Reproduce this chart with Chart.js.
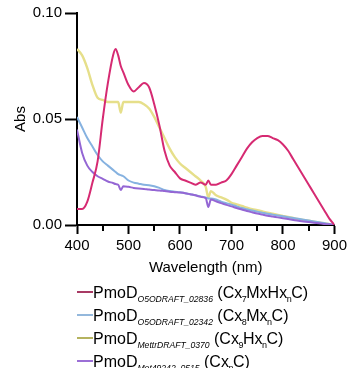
<!DOCTYPE html>
<html>
<head>
<meta charset="utf-8">
<script src="https://cdn.jsdelivr.net/npm/chart.js@4"></script>
<style>
  html, body { margin: 0; padding: 0; background: #fff; overflow: hidden; }
  #wrap { position: relative; width: 350px; height: 368px; overflow: hidden; }
  canvas { position: absolute; left: 0; top: 0; }
  .lg { position: absolute; left: 77px; font: 16px "Liberation Sans", Arial, sans-serif;
        color: #000; line-height: 23px; white-space: nowrap; }
  .lg .sw { display: inline-block; width: 16px; height: 2px; vertical-align: 5px; }
  .lg sub { font-size: 9px; line-height: 0; vertical-align: -4px; margin: 0 -0.5px; }
  .lg sub.i { font-style: italic; font-size: 8.6px; margin: 0; }
</style>
</head>
<body>
<div id="wrap">
  <canvas id="c" width="350" height="368"></canvas>
  <div class="lg" style="top:281px"><span class="sw" style="background:#a83a64"></span>PmoD<sub class="i">O5ODRAFT_02836</sub> (Cx<sub>7</sub>MxHx<sub>n</sub>C)</div>
  <div class="lg" style="top:304px"><span class="sw" style="background:#94b8dc"></span>PmoD<sub class="i">O5ODRAFT_02342</sub> (Cx<sub>8</sub>Mx<sub>n</sub>C)</div>
  <div class="lg" style="top:327px"><span class="sw" style="background:#b5b35f"></span>PmoD<sub class="i">MettrDRAFT_0370</sub> (Cx<sub>9</sub>Hx<sub>n</sub>C)</div>
  <div class="lg" style="top:350px"><span class="sw" style="background:#9b6fd6"></span>PmoD<sub class="i">Met49242_0515</sub> (Cx<sub>n</sub>C)</div>
</div>
<script>
// ── Daten ────────────────────────────────────────────────────────────────────
const WL = [400, 410, 420, 430, 440, 450, 460, 470, 475, 480, 485, 490, 500, 510, 520, 530,
  540, 550, 560, 570, 580, 590, 600, 610, 620, 630, 640, 650, 655, 660, 670, 680, 690, 700,
  710, 720, 730, 740, 750, 760, 770, 780, 790, 800, 810, 820, 830, 840, 850, 860, 870, 880,
  890, 900];

const RED = [.0075, .0075, .011, .020, .030, .050, .067, .080, .083, .080, .075, .072, .066,
  .063, .065, .067, .065, .057, .047, .035, .028, .025, .022, .021, .020, .019, .020, .019,
  .021, .019, .019, .020, .021, .024, .028, .032, .036, .039, .041, .042, .042, .041, .040,
  .038, .035, .031, .027, .023, .019, .015, .011, .007, .003, 0];

const BLUE = [.051, .046, .041, .037, .033, .030, .028, .026, .025, .024, .0235, .023, .021,
  .020, .0195, .019, .0188, .0183, .0175, .0165, .016, .0157, .0155, .015, .0145, .014,
  .0135, .013, .0125, .0125, .012, .011, .0103, .0096, .0088, .008, .0074, .0068, .0063,
  .0058, .0053, .0049, .0045, .0041, .0037, .0033, .0029, .0025, .0021, .0017, .0013,
  .0009, .0005, 0];

const YELLOW = [.083, .080, .074, .066, .060, .059, .058, .058, .058, .058, .053, .058, .058,
  .058, .058, .057, .055, .051, .046, .041, .036, .032, .029, .027, .025, .023, .021, .018,
  .013, .016, .014, .013, .012, .0105, .0097, .009, .0082, .0075, .007, .0064, .0058,
  .0053, .0048, .0043, .0038, .0033, .0028, .0024, .002, .0016, .0012, .0008, .0004, 0];

const PURPLE = [.045, .034, .028, .025, .023, .0218, .0205, .0198, .0193, .019, .0165, .0183,
  .018, .0175, .0172, .017, .0167, .0165, .0163, .016, .0157, .0155, .0153, .015, .0145,
  .014, .0133, .0127, .0085, .012, .0112, .0103, .0095, .0088, .008, .0073, .0066, .006,
  .0054, .0049, .0044, .004, .0036, .0032, .0028, .0024, .002, .0017, .0014, .0011, .0008,
  .0005, .0003, 0];

const X_MIN = 400, X_MAX = 900, Y_MIN = 0, Y_MAX = 0.10;

// ── Chart ───────────────────────────────────────────────────────────────────
const FONT = '"Liberation Sans", Arial, sans-serif';
const pts = ys => WL.map((x, i) => ({ x, y: ys[i] }));
// monotone: keine Ueberschwinger an den schmalen Kerben (485 / 655 nm).
const line = (data, color, w, order) => ({
  data: pts(data), borderColor: color, borderWidth: w, pointRadius: 0,
  fill: false, cubicInterpolationMode: 'monotone', order,
});

// Nebenstriche (450, 550, ...) kuerzer als die Hauptstriche.
const minorTicks = {
  id: 'minorTicks',
  afterDraw(ch) {
    const { ctx, scales: { x }, chartArea: a } = ch;
    ctx.save();
    ctx.strokeStyle = '#000';
    ctx.lineWidth = 2;
    for (let v = X_MIN + 50; v < X_MAX; v += 100) {
      const px = Math.round(x.getPixelForValue(v));
      ctx.beginPath();
      ctx.moveTo(px, a.bottom);
      ctx.lineTo(px, a.bottom + 6);
      ctx.stroke();
    }
    ctx.restore();
  },
};

new Chart(document.getElementById('c'), {
  type: 'line',
  data: { datasets: [
    line(YELLOW, '#e6df8a', 2.4, 3),
    line(BLUE, '#86b2e0', 2, 2),
    line(PURPLE, '#9466d4', 2, 1),
    line(RED, '#d62a72', 2, 0),
  ] },
  options: {
    responsive: false, animation: false,
    layout: { padding: { top: 13, right: 14, bottom: 90, left: 0 } },
    plugins: { legend: { display: false }, tooltip: { enabled: false } },
    scales: {
      x: {
        type: 'linear', min: X_MIN, max: X_MAX,
        afterFit: s => { s.height = 53; },
        border: { color: '#000', width: 2 },
        grid: { drawOnChartArea: false, tickLength: 9, tickWidth: 2,
                tickColor: c => (c.tick && c.tick.value % 100 === 0 ? '#000' : 'rgba(0,0,0,0)') },
        ticks: { stepSize: 50, color: '#000', padding: 3, maxRotation: 0, autoSkip: false,
                 font: { family: FONT, size: 15 },
                 callback: v => (v % 100 === 0 ? v : '') },
        title: { display: true, text: 'Wavelength (nm)', color: '#000',
                 font: { family: FONT, size: 15 }, padding: { top: 0, bottom: 1 } },
      },
      y: {
        min: Y_MIN, max: Y_MAX,
        afterFit: s => { s.width = 77; },
        border: { color: '#000', width: 2 },
        grid: { drawOnChartArea: false, tickLength: 12, tickWidth: 2, tickColor: '#000' },
        ticks: { stepSize: 0.05, color: '#000', padding: 3,
                 font: { family: FONT, size: 15 }, callback: v => v.toFixed(2) },
        title: { display: true, text: 'Abs', color: '#000',
                 font: { family: FONT, size: 15 }, padding: { top: 12, bottom: 0 } },
      },
    },
  },
  plugins: [minorTicks],
});
</script>
</body>
</html>
